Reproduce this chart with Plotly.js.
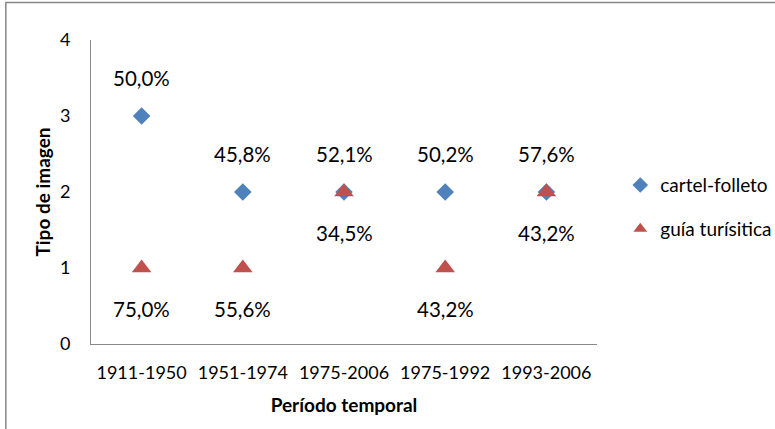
<!DOCTYPE html>
<html>
<head>
<meta charset="utf-8">
<script src="https://cdn.plot.ly/plotly-3.0.1.min.js"></script>
<style>html,body{margin:0;padding:0;background:#fff;}#chart{width:775px;height:429px;}</style>
</head>
<body>
<div id="chart"></div>
<script>
const categories = ["1911-1950", "1951-1974", "1975-2006", "1975-1992", "1993-2006"];
const cartelValues = [3, 2, 2, 2, 2];
const cartelLabels = ["50,0%", "45,8%", "52,1%", "50,2%", "57,6%"];
const guiaValues = [1, 1, 2, 1, 2];
const guiaLabels = ["75,0%", "55,6%", "34,5%", "43,2%", "43,2%"];
const yTicks = [0, 1, 2, 3, 4];

const FONT = "Lato, 'Open Sans', sans-serif";

const traces = [
  {
    x: categories, y: cartelValues, type: "scatter", mode: "markers",
    name: "cartel-folleto", legendgroup: "a",
    marker: {symbol: "diamond", size: 13.5, color: "#4F81BD"}
  },
  {
    x: categories, y: guiaValues, type: "scatter", mode: "markers",
    name: "guía turísitica", legendgroup: "b",
    marker: {symbol: "triangle-up", size: 17, color: "#C0504D"}
  }
];

const annotations = [];
categories.forEach((c, i) => {
  annotations.push({x: c, y: cartelValues[i], xref: "x", yref: "y", text: cartelLabels[i],
    showarrow: false, yshift: 38, font: {family: FONT, size: 20.5, color: "#000"}});
  annotations.push({x: c, y: guiaValues[i], xref: "x", yref: "y", text: guiaLabels[i],
    showarrow: false, yshift: -41, font: {family: FONT, size: 20.5, color: "#000"}});
});

const layout = {
  width: 775, height: 429,
  margin: {l: 91, r: 178, t: 40, b: 85, autoexpand: false},
  paper_bgcolor: "#fff", plot_bgcolor: "#fff",
  font: {family: FONT, size: 18, color: "#000"},
  showlegend: true,
  legend: {x: 1.046, y: 0.45, xanchor: "left", yanchor: "middle",
    font: {family: FONT, size: 19, color: "#000"},
    traceorder: "grouped", tracegroupgap: 16, itemwidth: 30, itemsizing: "constant"},
  xaxis: {
    type: "category", range: [-0.5, 4.5],
    showline: true, linecolor: "#888", linewidth: 1,
    showgrid: false, zeroline: false, ticks: "",
    ticklabelstandoff: 12,
    tickfont: {family: FONT, size: 18, color: "#000"},
    title: {text: "<b>Período temporal</b>", font: {family: FONT, size: 19, color: "#000"}, standoff: 17}
  },
  yaxis: {
    range: [0, 4], tickvals: yTicks, ticktext: yTicks.map(String),
    showline: true, linecolor: "#888", linewidth: 1,
    showgrid: false, zeroline: false, ticks: "",
    ticklabelstandoff: 16,
    tickfont: {family: FONT, size: 18, color: "#000"},
    title: {text: "<b>Tipo de imagen</b>", font: {family: FONT, size: 19, color: "#000"}, standoff: 4}
  },
  annotations: annotations,
  shapes: [{type: "rect", xref: "paper", yref: "paper",
    x0: -0.1683, x1: 1.364, y0: -0.299, y1: 1.1234,
    line: {color: "#868686", width: 1.5}}]
};

Plotly.newPlot("chart", traces, layout, {displayModeBar: false, staticPlot: true});
</script>
</body>
</html>
